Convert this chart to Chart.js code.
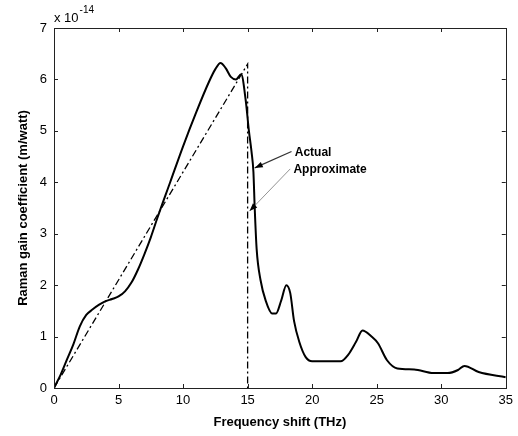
<!DOCTYPE html>
<html>
<head>
<meta charset="utf-8">
<script src="https://cdn.jsdelivr.net/npm/chart.js@4"></script>
<style>
  html, body { margin: 0; padding: 0; background: #fff; }
  #wrap { width: 518px; height: 436px; }
</style>
</head>
<body>
<div id="wrap"><canvas id="chart" width="518" height="436"></canvas></div>
<script>
// measured Raman gain (x 1e-14 m/W) vs frequency shift (THz)
const actualX = [0, 0.5, 1, 1.5, 2, 2.5, 3, 3.5, 4, 4.5, 5, 5.5, 6, 6.5, 7, 7.5, 8, 9, 10, 11, 12, 12.5, 12.9, 13.3, 13.7, 14.1, 14.5, 14.85, 15.1, 15.3, 15.45, 15.55, 15.7, 16, 16.4, 16.9, 17.2, 17.6, 18, 18.3, 18.6, 19, 19.5, 20, 22.2, 22.8, 23.4, 23.9, 24.6, 25.1, 25.8, 26.6, 27.9, 29.4, 30.5, 31.3, 31.8, 32.9, 35];
const actualY = [0, 0.25, 0.55, 0.85, 1.2, 1.42, 1.53, 1.62, 1.69, 1.73, 1.78, 1.88, 2.05, 2.3, 2.6, 2.93, 3.3, 4.0, 4.7, 5.35, 5.95, 6.2, 6.32, 6.22, 6.05, 6.0, 6.1, 5.6, 5.0, 4.6, 4.2, 3.5, 2.7, 2.1, 1.7, 1.45, 1.45, 1.7, 2.0, 1.85, 1.3, 0.9, 0.6, 0.52, 0.52, 0.65, 0.9, 1.12, 1.0, 0.87, 0.54, 0.38, 0.36, 0.29, 0.29, 0.35, 0.43, 0.31, 0.21];

// triangular approximation
const approxX = [0, 15, 15];
const approxY = [0, 6.3, 0];

const xTicks = [0, 5, 10, 15, 20, 25, 30, 35];
const yTicks = [0, 1, 2, 3, 4, 5, 6, 7];

const toPoints = (xs, ys) => xs.map((x, i) => ({x: x, y: ys[i]}));

// label anchors in data units
const notes = [
    {text: 'Actual', at: {x: 18.65, y: 4.57}, from: {x: 18.4, y: 4.6}, tip: {x: 15.55, y: 4.28}, color: '#333', width: 1.2},
    {text: 'Approximate', at: {x: 18.55, y: 4.24}, from: {x: 18.3, y: 4.26}, tip: {x: 15.15, y: 3.44}, color: '#777', width: 0.8}
];

const FONT = '"Liberation Sans", Arial, sans-serif';

const framePlugin = {
    id: 'frame',
    afterDraw(chart) {
        const {ctx, chartArea: a, scales: {x, y}} = chart;
        ctx.save();
        ctx.strokeStyle = '#222';
        ctx.lineWidth = 1;
        ctx.strokeRect(Math.round(a.left) + 0.5, Math.round(a.top) + 0.5,
            Math.round(a.right - a.left), Math.round(a.bottom - a.top));

        // inward ticks on all four sides
        const len = 4;
        ctx.beginPath();
        xTicks.forEach((v) => {
            const px = Math.round(x.getPixelForValue(v)) + 0.5;
            ctx.moveTo(px, a.bottom); ctx.lineTo(px, a.bottom - len);
            ctx.moveTo(px, a.top); ctx.lineTo(px, a.top + len);
        });
        yTicks.forEach((v) => {
            const py = Math.round(y.getPixelForValue(v)) + 0.5;
            ctx.moveTo(a.left, py); ctx.lineTo(a.left + len, py);
            ctx.moveTo(a.right, py); ctx.lineTo(a.right - len, py);
        });
        ctx.stroke();

        // exponent label
        ctx.fillStyle = '#000';
        ctx.textBaseline = 'alphabetic';
        ctx.textAlign = 'left';
        ctx.font = '13px ' + FONT;
        ctx.fillText('x 10', a.left, a.top - 6);
        const w = ctx.measureText('x 10').width;
        ctx.font = '10px ' + FONT;
        ctx.fillText('-14', a.left + w + 1, a.top - 15);

        // annotations with arrows
        notes.forEach((n) => {
            const sx = x.getPixelForValue(n.from.x), sy = y.getPixelForValue(n.from.y);
            const tx = x.getPixelForValue(n.tip.x), ty = y.getPixelForValue(n.tip.y);
            ctx.strokeStyle = n.color;
            ctx.lineWidth = n.width;
            ctx.beginPath();
            ctx.moveTo(sx, sy);
            ctx.lineTo(tx, ty);
            ctx.stroke();
            const ang = Math.atan2(ty - sy, tx - sx);
            const hl = 8, hw = 3;
            ctx.fillStyle = '#000';
            ctx.beginPath();
            ctx.moveTo(tx, ty);
            ctx.lineTo(tx - hl * Math.cos(ang) + hw * Math.sin(ang), ty - hl * Math.sin(ang) - hw * Math.cos(ang));
            ctx.lineTo(tx - hl * Math.cos(ang) - hw * Math.sin(ang), ty - hl * Math.sin(ang) + hw * Math.cos(ang));
            ctx.closePath();
            ctx.fill();

            ctx.font = 'bold 12px ' + FONT;
            ctx.textBaseline = 'middle';
            ctx.fillText(n.text, x.getPixelForValue(n.at.x), y.getPixelForValue(n.at.y));
        });
        ctx.restore();
    }
};

const ctx = document.getElementById('chart').getContext('2d');
new Chart(ctx, {
    type: 'line',
    data: {
        datasets: [
            {
                label: 'Actual',
                data: toPoints(actualX, actualY),
                borderColor: '#000',
                borderWidth: 2,
                pointRadius: 0,
                cubicInterpolationMode: 'monotone',
                fill: false
            },
            {
                label: 'Approximate',
                data: toPoints(approxX, approxY),
                borderColor: '#000',
                borderWidth: 1.3,
                borderDash: [7, 3, 2, 3],
                pointRadius: 0,
                tension: 0,
                fill: false
            }
        ]
    },
    options: {
        responsive: false,
        animation: false,
        events: [],
        layout: {padding: {left: 0, top: 28, right: 9, bottom: 0}},
        plugins: {
            legend: {display: false},
            tooltip: {enabled: false}
        },
        scales: {
            x: {
                type: 'linear',
                min: 0,
                max: 35,
                afterFit: (s) => { s.height = 48; },
                afterBuildTicks: (s) => { s.ticks = xTicks.map((v) => ({value: v})); },
                grid: {display: false, drawTicks: false},
                border: {display: false},
                ticks: {color: '#000', padding: 5, font: {family: FONT, size: 13}},
                title: {
                    display: true,
                    text: 'Frequency shift (THz)',
                    color: '#000',
                    font: {family: FONT, size: 13, weight: 'bold'},
                    padding: {top: 0, bottom: 6}
                }
            },
            y: {
                min: 0,
                max: 7,
                afterFit: (s) => { s.width = 54; },
                afterBuildTicks: (s) => { s.ticks = yTicks.map((v) => ({value: v})); },
                grid: {display: false, drawTicks: false},
                border: {display: false},
                ticks: {color: '#000', padding: 7, font: {family: FONT, size: 13}},
                title: {
                    display: true,
                    text: 'Raman gain coefficient (m/watt)',
                    color: '#000',
                    font: {family: FONT, size: 13, weight: 'bold'},
                    padding: {top: 16, bottom: 0}
                }
            }
        }
    },
    plugins: [framePlugin]
});
</script>
</body>
</html>
